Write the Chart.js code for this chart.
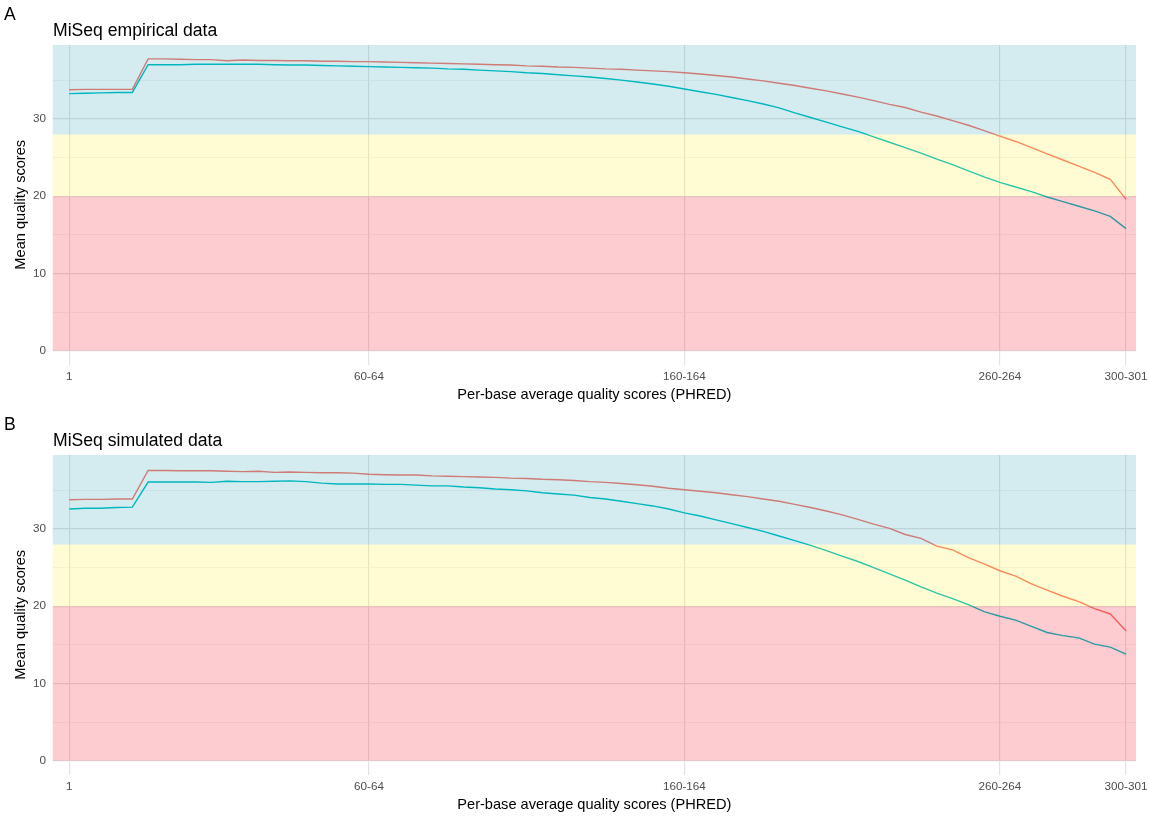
<!DOCTYPE html>
<html>
<head>
<meta charset="utf-8">
<script src="https://cdn.jsdelivr.net/npm/chart.js@4.4.1/dist/chart.umd.min.js"></script>
<style>
  body { margin: 0; width: 1149px; height: 817px; overflow: hidden; background: #fff;
    font-family: "Liberation Sans", Arial, sans-serif; }
  .panel { position: absolute; left: 0; width: 1149px; height: 410px; }
  .panel canvas { position: absolute; left: 0; top: 0; }
  .tag { position: absolute; left: 4px; top: 4px; font-size: 17.6px; color: #000; }
  .title { position: absolute; left: 53px; top: 20px; font-size: 17.6px; color: #000; }
</style>
</head>
<body>
<div class="panel" style="top:0">
  <canvas id="chartA" width="1149" height="410"></canvas>
  <div class="tag">A</div>
  <div class="title">MiSeq empirical data</div>
</div>
<div class="panel" style="top:410px">
  <canvas id="chartB" width="1149" height="410"></canvas>
  <div class="tag">B</div>
  <div class="title">MiSeq simulated data</div>
</div>
<script>
// read positions (FastQC bins)
const positions = [
  '1', '2', '3', '4', '5', '6', '7', '8', '9', '10-14', '15-19', '20-24', '25-29', '30-34',
  '35-39', '40-44', '45-49', '50-54', '55-59', '60-64', '65-69', '70-74', '75-79', '80-84',
  '85-89', '90-94', '95-99', '100-104', '105-109', '110-114', '115-119', '120-124', '125-129',
  '130-134', '135-139', '140-144', '145-149', '150-154', '155-159', '160-164', '165-169',
  '170-174', '175-179', '180-184', '185-189', '190-194', '195-199', '200-204', '205-209',
  '210-214', '215-219', '220-224', '225-229', '230-234', '235-239', '240-244', '245-249',
  '250-254', '255-259', '260-264', '265-269', '270-274', '275-279', '280-284', '285-289',
  '290-294', '295-299', '300-301',
];
const shownLabels = ['1', '60-64', '160-164', '260-264', '300-301'];
const yTicks = [0, 5, 10, 15, 20, 25, 30, 35];
const bandEdges = [0, 20, 28]; // red / yellow / blue quality zones

// panel A: empirical
const empiricalRead1 = [
  33.8, 33.85, 33.85, 33.85, 33.85, 37.8, 37.8, 37.75, 37.7, 37.7,
  37.55, 37.65, 37.6, 37.6, 37.55, 37.55, 37.5, 37.5, 37.45, 37.45,
  37.4, 37.35, 37.3, 37.25, 37.2, 37.15, 37.1, 37.05, 37.0, 36.9,
  36.85, 36.75, 36.7, 36.6, 36.5, 36.45, 36.35, 36.25, 36.15, 36.0,
  35.85, 35.65, 35.45, 35.2, 34.95, 34.65, 34.35, 34.0, 33.65, 33.25,
  32.85, 32.4, 31.9, 31.5, 30.9, 30.4, 29.8, 29.2, 28.5, 27.8,
  27.1, 26.3, 25.5, 24.7, 23.9, 23.1, 22.2, 19.6,
];
const empiricalRead2 = [
  33.3, 33.35, 33.4, 33.45, 33.45, 37.05, 37.05, 37.05, 37.1, 37.1,
  37.1, 37.1, 37.1, 37.05, 37.0, 37.0, 36.95, 36.9, 36.85, 36.8,
  36.75, 36.7, 36.65, 36.6, 36.5, 36.45, 36.35, 36.25, 36.15, 36.0,
  35.9, 35.75, 35.6, 35.45, 35.25, 35.05, 34.8, 34.55, 34.25, 33.9,
  33.55, 33.2, 32.8, 32.4, 31.95, 31.45, 30.8, 30.2, 29.6, 29.0,
  28.4, 27.7, 27.0, 26.3, 25.6, 24.8, 24.1, 23.3, 22.5, 21.8,
  21.2, 20.6, 19.9, 19.3, 18.7, 18.1, 17.4, 15.8,
];

// panel B: simulated
const simulatedRead1 = [
  33.8, 33.85, 33.85, 33.9, 33.9, 37.6, 37.6, 37.55, 37.55, 37.55,
  37.5, 37.45, 37.5, 37.35, 37.4, 37.35, 37.3, 37.3, 37.25, 37.1,
  37.05, 37.0, 37.0, 36.9, 36.85, 36.8, 36.75, 36.7, 36.6, 36.55,
  36.45, 36.4, 36.3, 36.15, 36.05, 35.9, 35.75, 35.55, 35.3, 35.1,
  34.9, 34.7, 34.45, 34.2, 33.9, 33.6, 33.2, 32.8, 32.35, 31.85,
  31.25, 30.65, 30.1, 29.3, 28.8, 27.8, 27.3, 26.3, 25.5, 24.6,
  23.9, 22.9, 22.1, 21.3, 20.6, 19.7, 19.0, 16.8,
];
const simulatedRead2 = [
  32.6, 32.7, 32.7, 32.8, 32.85, 36.1, 36.1, 36.1, 36.1, 36.05,
  36.2, 36.15, 36.15, 36.2, 36.25, 36.15, 35.95, 35.85, 35.85, 35.85,
  35.8, 35.8, 35.7, 35.6, 35.6, 35.45, 35.35, 35.2, 35.1, 34.95,
  34.7, 34.55, 34.4, 34.1, 33.9, 33.6, 33.3, 33.0, 32.6, 32.1,
  31.7, 31.2, 30.7, 30.2, 29.7, 29.1, 28.5, 27.9, 27.2, 26.5,
  25.8, 25.0, 24.2, 23.4, 22.5, 21.7, 21.0, 20.2, 19.3, 18.7,
  18.2, 17.4, 16.6, 16.2, 15.9, 15.1, 14.7, 13.8,
];

const bandColors = ['rgba(240, 0, 20, 0.2)', 'rgba(255, 240, 0, 0.17)', 'rgba(0, 140, 160, 0.17)'];
const gridMajor = '#E3E3E3';
const gridMinor = '#EEEEEE';

// zones are painted on top of the lines, like the translucent rects in the original
const bandPlugin = {
  id: 'qualityBands',
  afterDatasetsDraw(chart) {
    const { ctx, chartArea, scales: { y } } = chart;
    ctx.save();
    bandEdges.forEach((edge, i) => {
      const bottom = y.getPixelForValue(edge);
      const top = i + 1 < bandEdges.length ? y.getPixelForValue(bandEdges[i + 1]) : chartArea.top;
      ctx.fillStyle = bandColors[i];
      ctx.fillRect(chartArea.left, top, chartArea.right - chartArea.left, bottom - top);
    });
    ctx.restore();
  },
};

const toPoints = (values) => values.map((v, i) => ({ x: i, y: v }));

const makeChart = (id, read1, read2) => {
  const canvas = document.getElementById(id);
  // eslint-disable-next-line no-new, no-undef
  new Chart(canvas, {
    type: 'line',
    data: {
      datasets: [
        { data: toPoints(read1), borderColor: '#F8766D', borderWidth: 1.4, pointRadius: 0, tension: 0 },
        { data: toPoints(read2), borderColor: '#00BFC4', borderWidth: 1.4, pointRadius: 0, tension: 0 },
      ],
    },
    options: {
      responsive: false,
      animation: false,
      events: [],
      layout: { autoPadding: false, padding: { top: 45, right: 13, left: 0, bottom: 0 } },
      plugins: { legend: { display: false }, tooltip: { enabled: false } },
      scales: {
        x: {
          type: 'linear',
          min: -1.05,
          max: 67.63,
          afterFit: (scale) => {
            scale.height = 45.5;
            scale.paddingLeft = 0;
            scale.paddingRight = 0;
          },
          afterBuildTicks: (scale) => {
            scale.ticks = shownLabels.map((l) => ({ value: positions.indexOf(l) }));
          },
          ticks: {
            callback: (value) => positions[value],
            color: '#4D4D4D',
            font: { family: 'Liberation Sans', size: 11.7 },
            padding: 5,
            maxRotation: 0,
            autoSkip: false,
          },
          grid: { color: gridMajor, lineWidth: 1.2, drawTicks: false },
          border: { display: false },
          title: {
            display: true,
            text: 'Per-base average quality scores (PHRED)',
            color: '#000',
            font: { family: 'Liberation Sans', size: 14.6 },
            padding: { top: 0, bottom: 6.5 },
          },
        },
        y: {
          min: -1.8,
          max: 39.6,
          afterFit: (scale) => { scale.width = 52.7; },
          afterBuildTicks: (scale) => {
            scale.ticks = yTicks.map((v) => ({ value: v }));
          },
          ticks: {
            callback: (value) => (value % 10 === 0 ? value : ''),
            color: '#4D4D4D',
            font: { family: 'Liberation Sans', size: 11.7 },
            padding: 6.7,
          },
          grid: {
            color: (ctx) => (ctx.tick && ctx.tick.value % 10 === 0 ? gridMajor : gridMinor),
            lineWidth: (ctx) => (ctx.tick && ctx.tick.value % 10 === 0 ? 1.2 : 0.7),
            drawTicks: false,
          },
          border: { display: false },
          title: {
            display: true,
            text: 'Mean quality scores',
            color: '#000',
            font: { family: 'Liberation Sans', size: 14.6 },
            padding: { top: 12.5, bottom: 0 },
          },
        },
      },
    },
    plugins: [bandPlugin],
  });
};

makeChart('chartA', empiricalRead1, empiricalRead2);
makeChart('chartB', simulatedRead1, simulatedRead2);
</script>
</body>
</html>
